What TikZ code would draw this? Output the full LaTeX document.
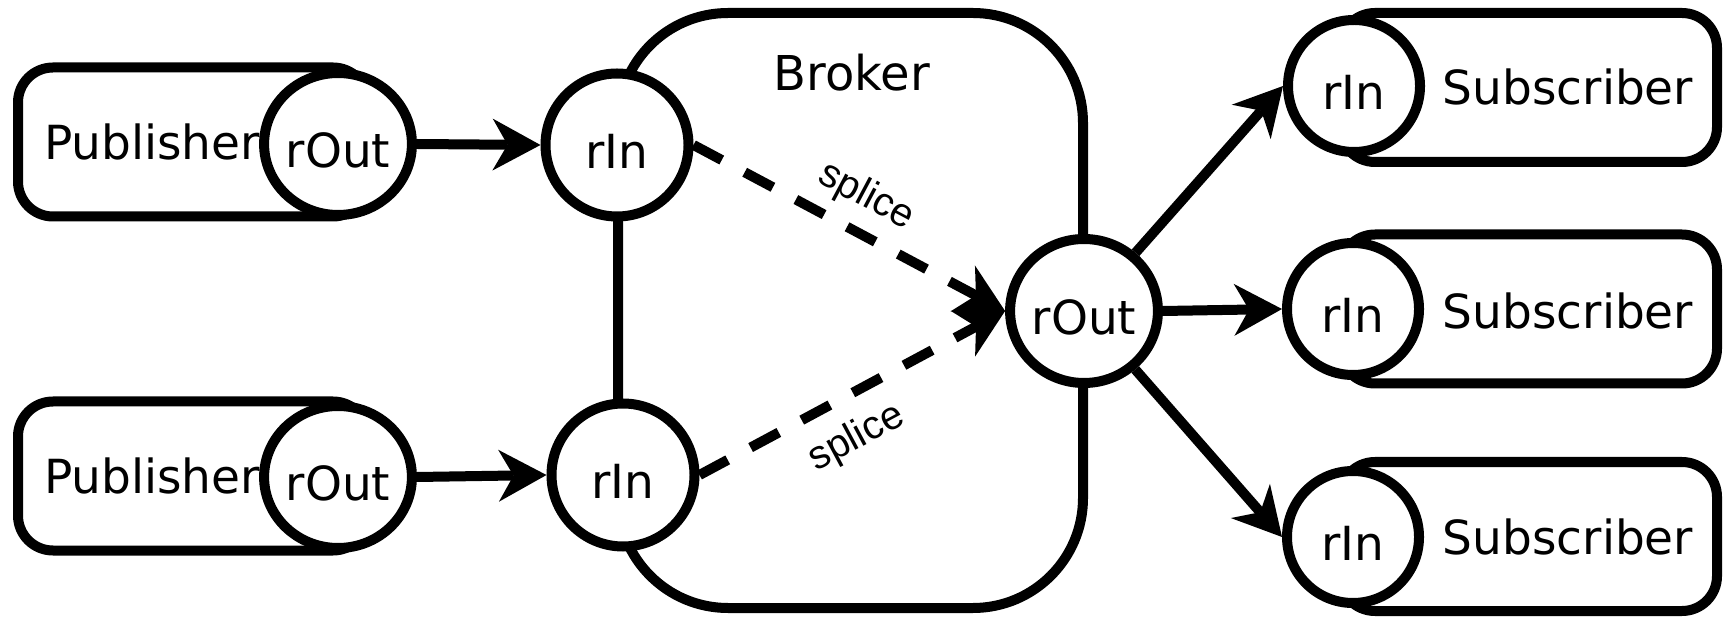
\documentclass[tikz,border=0pt]{standalone}
\usepackage{fontspec}
\setmainfont{DejaVu Sans}
\newfontfamily\splicefont{Liberation Sans}
\usetikzlibrary{positioning}
\usetikzlibrary{arrows.meta}
\usetikzlibrary{shapes.geometric}

\begin{document}
\begin{tikzpicture}[
  port/.style={ellipse, inner sep=0pt, fill=white, draw=black, line width=5pt, text height=23.5pt, text depth=0pt, font=\fontsize{23.5}{28}\selectfont},
  endbox/.style={rectangle, rounded corners=17.5pt, fill=white, draw=black, line width=5pt, minimum height=74.5pt},
  caption/.style={inner sep=0pt, text height=23.5pt, text depth=0pt, font=\fontsize{23.5}{28}\selectfont},
  flow/.style={line width=5pt, color=black, -{Stealth[length=24pt, width=26pt, inset=7.5pt, line width=0pt]}},
  splice/.style={flow, dash pattern=on 16pt off 13pt}
]
\useasboundingbox (0pt, 0pt) rectangle (863.5pt, -309.5pt);
\node (pub1) [endbox, minimum width=175pt] at (96.5pt, -71.0pt) {};
\node (pub2) [endbox, minimum width=175pt] at (96.5pt, -238.0pt) {};
\node (sub1) [endbox, minimum width=188.5pt] at (764.25pt, -43.75pt) {};
\node (sub2) [endbox, minimum width=188.5pt] at (764.25pt, -154.5pt) {};
\node (sub3) [endbox, minimum width=188.5pt] at (764.25pt, -268.25pt) {};
\node (broker) [rectangle, rounded corners=55pt, fill=white, draw=black, line width=5pt, minimum width=232.5pt, minimum height=297.5pt] at (425.25pt, -155.25pt) {};
\node (pub1txt) [caption] at (76.0pt, -68.25pt) {Publisher};
\node (pub2txt) [caption] at (76.0pt, -235.25pt) {Publisher};
\node (sub1txt) [caption] at (784.0pt, -40.75pt) {Subscriber};
\node (sub2txt) [caption] at (784.0pt, -152.5pt) {Subscriber};
\node (sub3txt) [caption] at (784.0pt, -265.5pt) {Subscriber};
\node (brokertxt) [caption, text height=24pt, font=\fontsize{24}{29}\selectfont] at (426.0pt, -33.5pt) {Broker};
\node (pubout1) [port, minimum width=65pt, minimum height=71pt] at (169.0pt, -72.0pt) {rOut};
\node (pubout2) [port, minimum width=65pt, minimum height=71pt] at (169.0pt, -238.5pt) {rOut};
\node (rin1) [port, minimum width=71.5pt, minimum height=71.5pt] at (308.5pt, -72.5pt) {rIn};
\node (rin2) [port, minimum width=71.5pt, minimum height=71.5pt] at (311.5pt, -237.5pt) {rIn};
\node (rout) [port, minimum width=72pt, minimum height=72pt] at (542.0pt, -155.5pt) {rOut};
\node (subin1) [port, minimum width=66pt, minimum height=66pt] at (677.0pt, -43.0pt) {rIn};
\node (subin2) [port, minimum width=66pt, minimum height=66pt] at (676.5pt, -154.5pt) {rIn};
\node (subin3) [port, minimum width=66pt, minimum height=66pt] at (676.5pt, -268.5pt) {rIn};
\draw [flow] (pubout1.east) to (rin1.west);
\draw [flow] (pubout2.east) to (rin2.west);
\draw [splice] (rin1.east) to node [sloped, above, inner sep=6pt, font=\splicefont\fontsize{20}{24}\selectfont] {splice} (rout.west);
\draw [splice] (rin2.east) to node [pos=0.45, sloped, below, inner sep=9pt, font=\splicefont\fontsize{20}{24}\selectfont] {splice} (rout.west);
\draw [flow] (rout) to (subin1.west);
\draw [flow] (rout.east) to (subin2.west);
\draw [flow] (rout) to (subin3.west);
\end{tikzpicture}
\end{document}
